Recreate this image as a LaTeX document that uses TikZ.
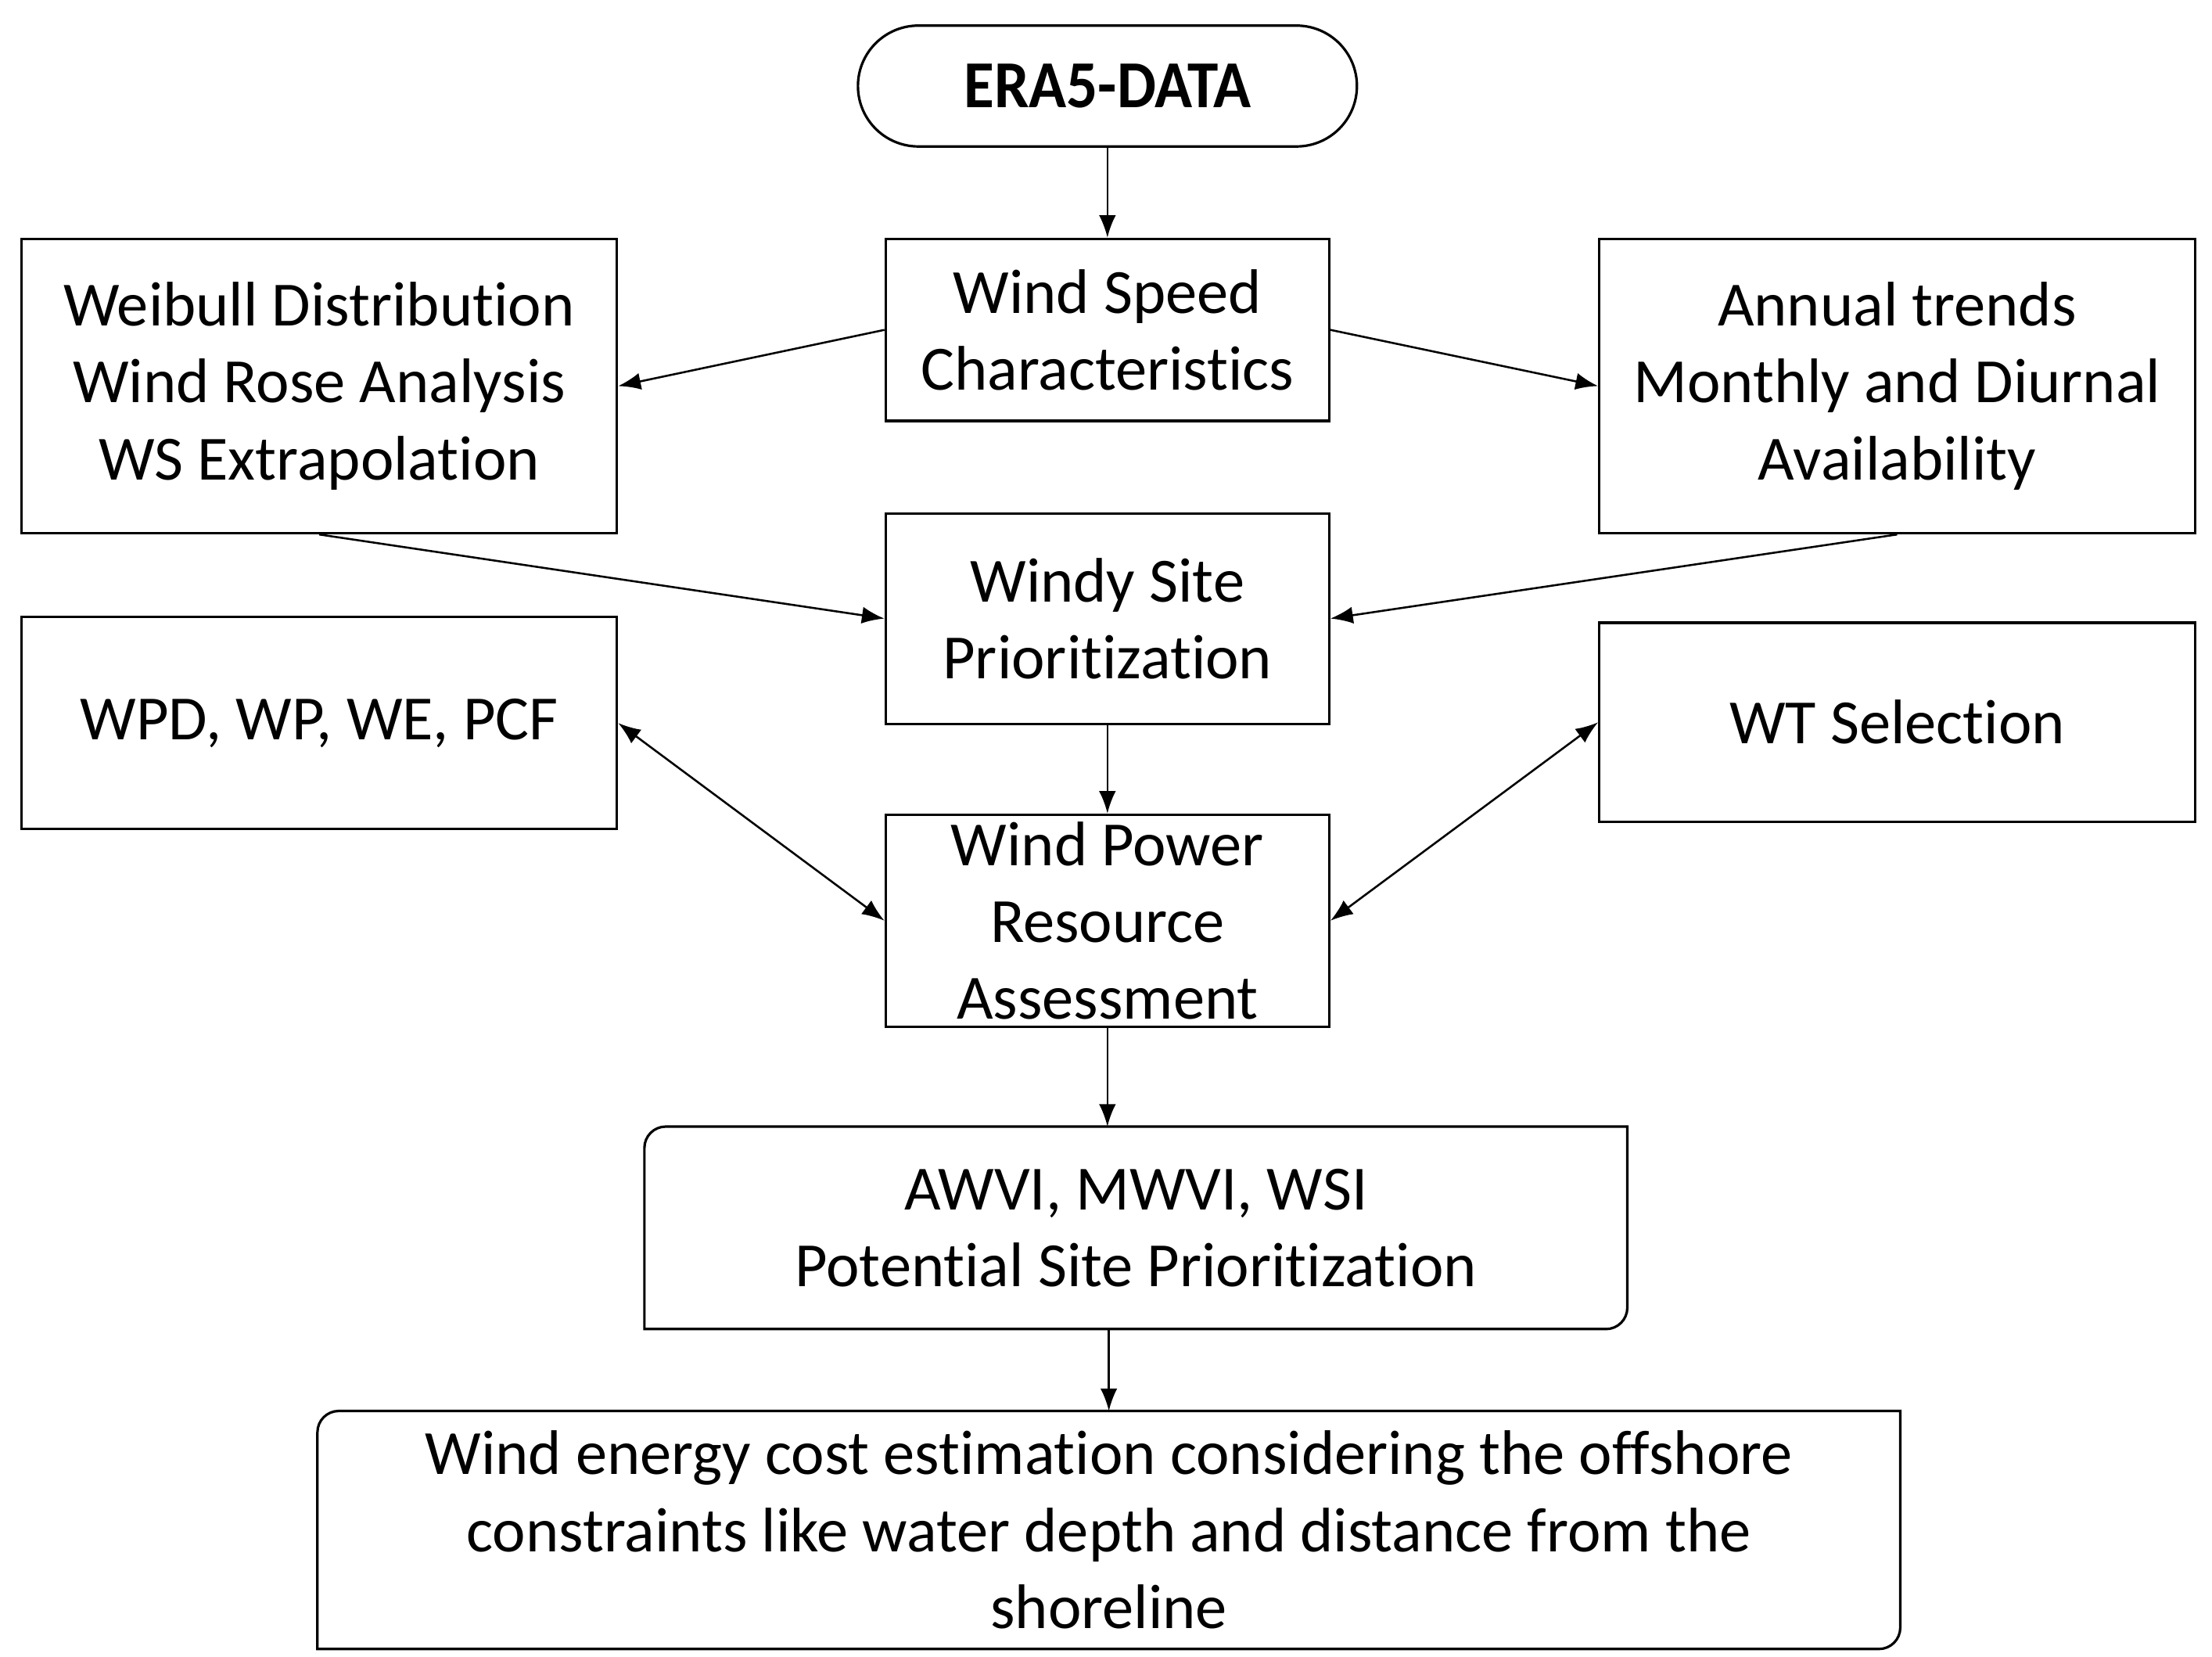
\documentclass[tikz,border=0pt]{standalone}
\usepackage{fontspec}
\setmainfont{Carlito}[RawFeature={-liga;-dlig;-clig;-calt;-hlig}]
\usetikzlibrary{arrows.meta,positioning,calc}

% box with rounded top-left and bottom-right corners
\newcommand{\diagbox}[2]{%
  \draw[line width=0.5pt] (#1.south west) -- ($(#1.north west)+(0,-#2)$)
    arc[start angle=180,end angle=90,radius=#2] -- (#1.north east)
    -- ($(#1.south east)+(0,#2)$)
    arc[start angle=0,end angle=-90,radius=#2] -- cycle;}

\begin{document}
\begin{tikzpicture}[node distance=2cm,on grid,
  font=\fontsize{12.6pt}{15.4pt}\selectfont,
  >={Latex[length=4.5pt,width=3.4pt]}]
  \tikzstyle{every node}=[align=center,inner sep=0pt]
  \tikzstyle{term}=[draw,line width=0.5pt,rounded corners=0.425cm,
    minimum width=3.51cm,minimum height=0.85cm,
    font=\fontsize{12.8pt}{15.4pt}\selectfont\bfseries]
  \tikzstyle{box}=[draw,line width=0.5pt,minimum width=3.12cm]
  \tikzstyle{side}=[draw,line width=0.5pt,minimum width=4.19cm]
  \tikzstyle{wide}=[minimum width=6.9cm,minimum height=1.41cm]

  \useasboundingbox (0,0) rectangle (15.56,-11.648);

    \node[term] (era) at (7.79,-0.605) {\scalebox{0.97}[1.05]{ERA5-DATA}};
    \node[box,minimum height=1.28cm] (wsc)  [below=1.715cm of era] {Wind Speed\\Characteristics};
    \node[side,minimum height=2.07cm] (weib) [left=5.545cm of wsc,yshift=-0.395cm]
      {Weibull Distribution\\Wind Rose Analysis\\WS Extrapolation};
    \node[side,minimum height=2.07cm] (ann)  [right=5.555cm of wsc,yshift=-0.395cm]
      {Annual trends\\Monthly and Diurnal\\Availability};
    \node[box,minimum height=1.48cm] (wsp)  [below=2.03cm of wsc] {Windy Site\\Prioritization};
    \node[side,minimum height=1.49cm] (wpd)  [left=5.545cm of wsp,yshift=-0.735cm] {WPD, WP, WE, PCF};
    \node[side,minimum height=1.40cm] (wt)   [right=5.555cm of wsp,yshift=-0.73cm] {WT Selection};
    \node[box,minimum height=1.49cm] (wpra) [below=2.125cm of wsp] {Wind Power\\Resource\\Assessment};
    \node[wide] (awvi) [below=2.16cm of wpra,xshift=0.2cm] {AWVI, MWVI, WSI\\Potential Site Prioritization};
    \node[minimum width=11.12cm,minimum height=1.66cm] (cost) [below=2.125cm of awvi,xshift=-0.19cm]
      {Wind energy cost estimation considering the offshore\\constraints like water depth and distance from the\\shoreline};
    \diagbox{awvi}{0.15cm}
    \diagbox{cost}{0.15cm}

    \path[->,line width=0.4pt]
    (era) edge (wsc)
    (wsc.west) edge (weib.east)
    (wsc.east) edge (ann.west)
    (weib.south) edge (wsp.west)
    (ann.south) edge (wsp.east)
    (wsp) edge (wpra)
    (wpra.south) edge (wpra.south |- awvi.north)
    (cost.north |- awvi.south) edge (cost.north)
    ;
    \path[<->,line width=0.4pt]
    (wpd.east) edge (wpra.west)
    (wt.west) edge (wpra.east)
    ;

\end{tikzpicture}
\end{document}
